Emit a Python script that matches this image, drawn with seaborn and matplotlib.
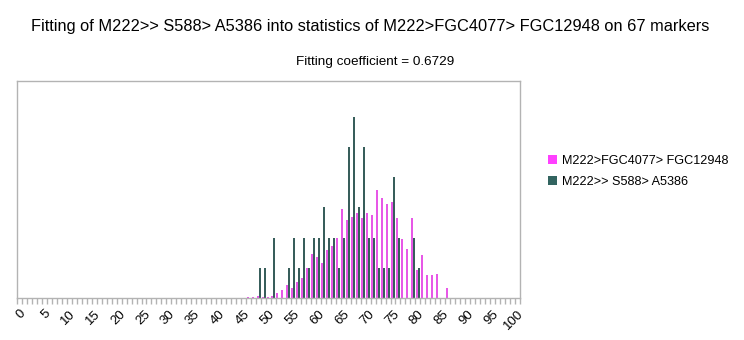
import numpy as np
import pandas as pd
import matplotlib
matplotlib.use("Agg")
import matplotlib.pyplot as plt
from matplotlib.patches import Patch
import seaborn as sns

categories = list(range(0, 101))

stat_name = "M222>FGC4077> FGC12948"
fit_name = "M222>> S588> A5386"

# statistics series (magenta), by category
stat_cats = [46, 47, 48, 49, 50, 51, 52, 53, 54, 55, 56, 57, 58, 59, 60, 61, 62, 63, 64,
             65, 66, 67, 68, 69, 70, 71, 72, 73, 74, 75, 76, 77, 78, 79, 80, 81, 82, 83, 84, 86]
stat_vals = [0.03, 0.03, 0.07, 0.03, 0.03, 0.08, 0.17, 0.25, 0.43, 0.34, 0.54, 0.66, 0.99, 1.44,
             1.36, 1.16, 1.58, 1.72, 1.99, 2.95, 2.58, 2.68, 2.81, 2.64, 2.81, 2.75, 3.58, 3.31,
             3.11, 3.18, 2.64, 1.95, 1.62, 2.64, 0.93, 1.42, 0.75, 0.75, 0.79, 0.33]

# fitted haplotype counts (dark green), by category
fit_cats = [48, 49, 51, 54, 55, 56, 57, 58, 59, 60, 61, 62, 63, 64, 65, 66, 67, 68, 69, 70,
            71, 72, 73, 74, 75, 76, 79, 80]
fit_vals = [1, 1, 2, 1, 2, 1, 2, 1, 2, 2, 3, 2, 2, 1, 2, 5, 6, 3, 5, 2,
            2, 1, 1, 1, 4, 2, 2, 1]

title = "Fitting of M222>> S588> A5386 into statistics of M222>FGC4077> FGC12948 on 67 markers"
subtitle = "Fitting coefficient = 0.6729"

col_stat = "#ff40ff"
col_fit = "#326460"

stat_full = dict(zip(stat_cats, stat_vals))
fit_full = dict(zip(fit_cats, fit_vals))
rows = []
for c in categories:
    rows.append({"cat": str(c), "series": stat_name, "value": stat_full.get(c, 0.0)})
    rows.append({"cat": str(c), "series": fit_name, "value": fit_full.get(c, 0.0)})
df = pd.DataFrame(rows)

sns.set_style("white")
plt.rcParams["font.family"] = ["Liberation Sans", "DejaVu Sans"]
plt.rcParams["text.color"] = "black"
plt.rcParams["xtick.color"] = "black"

fig = plt.figure(figsize=(7.44, 3.40), dpi=100)
ax = fig.add_axes([17 / 744, 1 - 298 / 340, (520 - 17) / 744, (298 - 81) / 340])

sns.barplot(data=df, x="cat", y="value", hue="series", order=[str(c) for c in categories],
            hue_order=[stat_name, fit_name], palette=[col_stat, col_fit], width=0.8,
            linewidth=0, ax=ax, legend=False)

ax.set_xlim(-0.5, 100.5)
ax.set_ylim(0, 7.18)
ax.set_xlabel("")
ax.set_ylabel("")
ax.set_yticks([])

ax.set_xticks(list(range(0, 101, 5)))
ax.set_xticklabels([str(c) for c in range(0, 101, 5)], rotation=45, ha="right",
                   rotation_mode="anchor", fontsize=9.5, color="black")
ax.set_xticks(np.arange(-0.5, 101, 1), minor=True)
ax.tick_params(axis="x", which="major", length=0, pad=7)
ax.tick_params(axis="x", which="minor", length=4, color="#b3b3b3", width=1, bottom=True)

for s in ax.spines.values():
    s.set_visible(True)
    s.set_color("#b3b3b3")
    s.set_linewidth(1)

fig.text(370 / 744, 1 - 27 / 340, title, ha="center", va="center", fontsize=11.75, color="black")
fig.text(375 / 744, 1 - 62 / 340, subtitle, ha="center", va="center", fontsize=9.7, color="black")

handles = [Patch(facecolor=col_stat, edgecolor="none"), Patch(facecolor=col_fit, edgecolor="none")]
fig.legend(handles, [stat_name, fit_name], loc="center left",
           bbox_to_anchor=(537 / 744, 1 - 171.5 / 340), frameon=False, fontsize=9.1,
           handlelength=0.7, handleheight=0.7, handletextpad=0.4, labelspacing=0.75,
           labelcolor="black")

fig.savefig("out.png", dpi=100)
